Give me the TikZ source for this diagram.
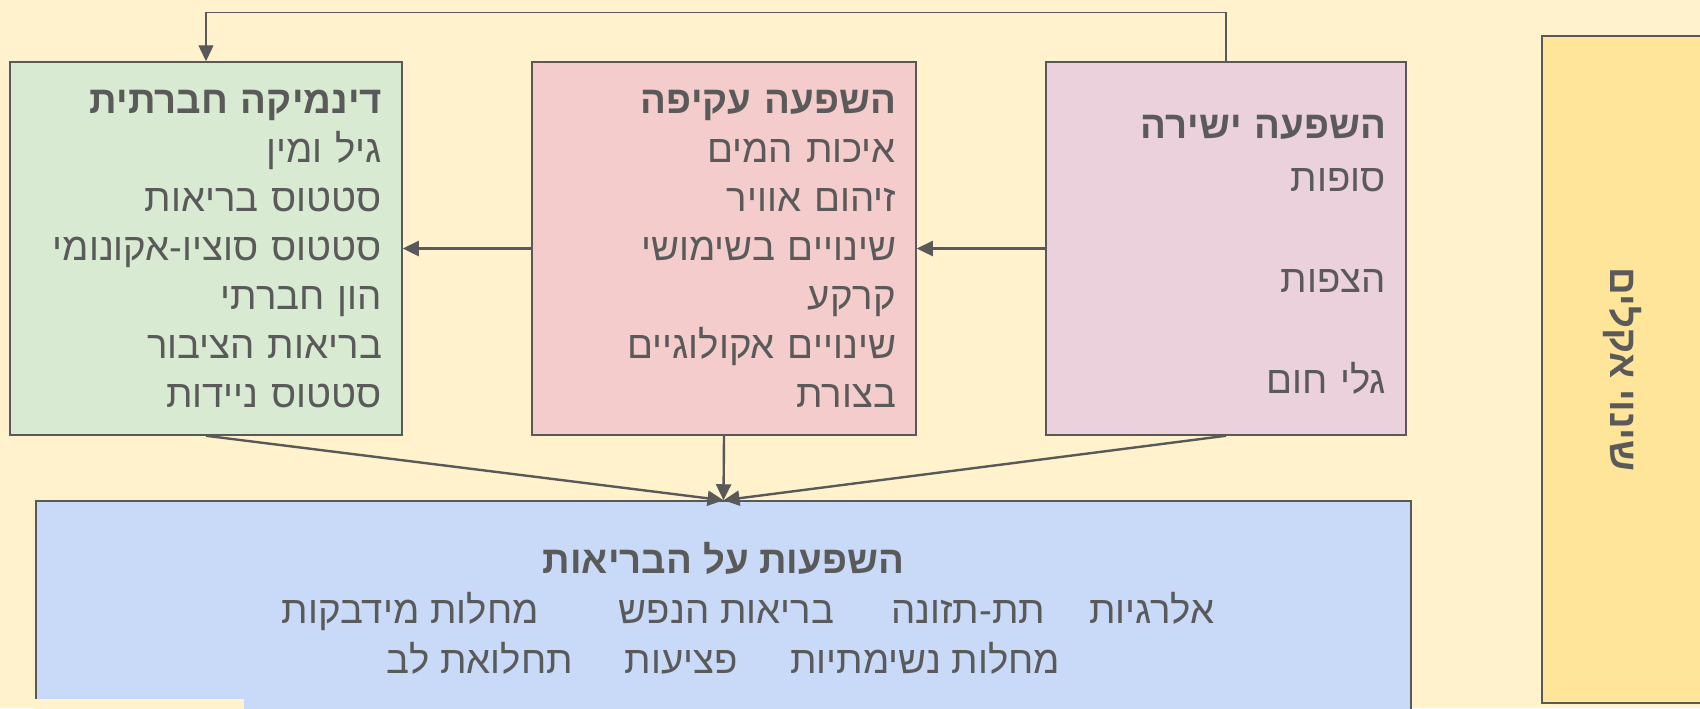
\documentclass[tikz,border=0pt]{standalone}
\usepackage{fontspec}
\usepackage{xcolor}
\usepackage{tikz}
\usetikzlibrary{arrows.meta}
\TeXXeTstate=1
\newfontfamily\hebfont[Script=Hebrew]{Liberation Sans}
\newcommand*{\heb}[1]{\beginR #1\endR}
\definecolor{bgcream}{HTML}{FFF2CC}
\definecolor{greenbox}{HTML}{D9EAD3}
\definecolor{pinkbox}{HTML}{F4CCCC}
\definecolor{mauvebox}{HTML}{EAD1DC}
\definecolor{bluebox}{HTML}{C9DAF8}
\definecolor{yellowbox}{HTML}{FFE599}
\definecolor{linegray}{HTML}{595959}
\definecolor{txtgray}{HTML}{5A5A5A}

\begin{document}
\begin{tikzpicture}[x=0.5pt,y=-0.5pt,
  box/.style={draw=linegray,line width=0.75pt,inner xsep=10pt,inner ysep=0pt,
    text=txtgray,font=\hebfont\fontsize{19.2}{24.5}\selectfont},
  link/.style={draw=linegray,line width=1.2pt,-{Triangle[length=8pt,width=7.5pt]}},
  toplink/.style={link,line width=0.7pt}]
\useasboundingbox(0,0)rectangle(1700,708);
\clip(0,0)rectangle(1700,708);
\fill[bgcream](0,0)rectangle(1700,708);

% the three causes
\node[box,fill=greenbox,align=right,text width=176pt,minimum height=186.5pt](dyn)at(206,248.5)
  {{\bfseries\heb{דינמיקה חברתית}}\\\heb{גיל ומין}\\\heb{סטטוס בריאות}\\\heb{סטטוס סוציו-אקונומי}\\
   \heb{הון חברתי}\\\heb{בריאות הציבור}\\\heb{סטטוס ניידות}};
\node[box,fill=pinkbox,align=right,text width=172pt,minimum height=186.5pt](ind)at(724,248.5)
  {{\bfseries\heb{השפעה עקיפה}}\\\heb{איכות המים}\\\heb{זיהום אוויר}\\\heb{שינויים בשימושי}\\
   \heb{קרקע}\\\heb{שינויים אקולוגיים}\\\heb{בצורת}};
\node[box,fill=mauvebox,align=right,text width=160pt,minimum height=186.5pt](dir)at(1226,248.5)
  {\rule{0pt}{18pt}{\bfseries\heb{השפעה ישירה}}\\[2pt]\heb{סופות}\\[26pt]\heb{הצפות}\\[26pt]\heb{גלי חום}};

% effects
\node[box,fill=bluebox,align=center,minimum width=687.5pt,minimum height=107pt,
  font=\hebfont\fontsize{19.2}{25}\selectfont](health)at(723.5,608)
  {{\bfseries\heb{השפעות על הבריאות}}\\
   \heb{אלרגיות\hspace{22pt}תת-תזונה\hspace{28.5pt}בריאות הנפש\hspace{40pt}מחלות מידבקות\hspace*{24.5pt}}\\
   \heb{מחלות נשימתיות\hspace{26pt}פציעות\hspace{26pt}תחלואת לב}};
\fill[bgcream](34,699)rectangle(244,712);

% climate
\node[box,fill=yellowbox,rotate=-90,minimum width=333.5pt,minimum height=80pt](clim)at(1622,369.5)
  {\bfseries\heb{שינוי אקלים}};

\draw[link](dir.west)--(ind.east);
\draw[link](ind.west)--(dyn.east);
\draw[toplink](dir.north)--++(0,-49)-|(dyn.north);
\draw[link](dyn.south)--(health.north);
\draw[link](ind.south)--(health.north);
\draw[link](dir.south)--(health.north);
\end{tikzpicture}
\end{document}
